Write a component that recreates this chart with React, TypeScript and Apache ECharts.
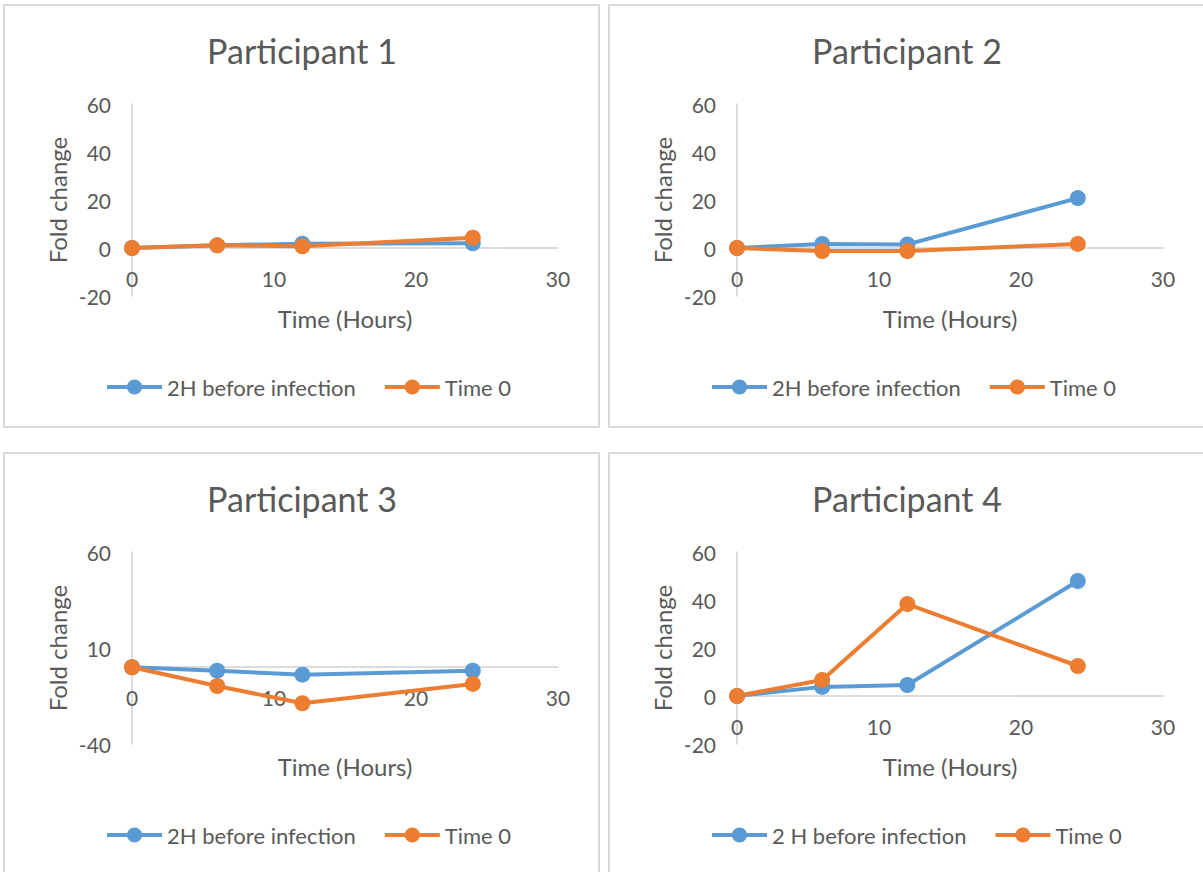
import React, { useEffect, useRef } from "react";
import * as echarts from "echarts";

// Sampling times (hours) and fold-change readings per participant
const hours = [0, 6, 12, 24];

const p1Before = [0, 1.1, 1.8, 2.0];
const p1Time0 = [0, 1.1, 0.7, 4.3];
const p2Before = [0, 1.7, 1.5, 20.8];
const p2Time0 = [0, -1.3, -1.3, 1.7];
const p3Before = [0, -1.8, -3.9, -1.8];
const p3Time0 = [0, -9.8, -18.8, -8.7];
const p4Before = [0, 3.8, 4.6, 47.9];
const p4Time0 = [0, 6.7, 38.3, 12.5];

const titles = ["Participant 1", "Participant 2", "Participant 3", "Participant 4"];
const beforeNames = [
  "2H before infection",
  "2H before infection",
  "2H before infection",
  "2 H before infection",
];
const time0Name = "Time 0";

const xTicks = [0, 10, 20, 30];
const yTicksStandard = [-20, 0, 20, 40, 60];
const yTicksP3 = [-40, 10, 60];

const beforeSeries = [p1Before, p2Before, p3Before, p4Before];
const time0Series = [p1Time0, p2Time0, p3Time0, p4Time0];
const yTickSets = [yTicksStandard, yTicksStandard, yTicksP3, yTicksStandard];

const BLUE = "#5B9BD5";
const ORANGE = "#ED7D31";
const TEXT = "#595959";
const AXIS = "#d0d0d0";
const BORDER = "#d9d9d9";
const FONT = "Lato";

// Panel layout: origin offsets of each of the four chart boxes
const panelOrigins = [
  { dx: 0, dy: 0 },
  { dx: 605, dy: 0 },
  { dx: 0, dy: 448 },
  { dx: 605, dy: 448 },
];
const PLOT_W = 426;
const PLOT_H = 192;

const pairs = (vals: number[]) => vals.map((v, i) => [hours[i], v]);

function buildOption() {
  const grid: any[] = [];
  const xAxis: any[] = [];
  const yAxis: any[] = [];
  const series: any[] = [];
  const legend: any[] = [];
  const graphic: any[] = [];

  panelOrigins.forEach((o, i) => {
    const ticks = yTickSets[i];
    const yMin = ticks[0];
    const yMax = ticks[ticks.length - 1];
    // horizontal axis sits where the value scale crosses zero
    const zeroLift = ((0 - yMin) / (yMax - yMin)) * PLOT_H;

    grid.push({
      left: 132 + o.dx,
      top: 104 + o.dy,
      width: PLOT_W,
      height: PLOT_H,
      containLabel: false,
    });
    xAxis.push({
      type: "value",
      gridIndex: i,
      position: "bottom",
      offset: -zeroLift,
      min: xTicks[0],
      max: xTicks[xTicks.length - 1],
      interval: 10,
      axisLine: { show: true, onZero: false, lineStyle: { color: AXIS, width: 1.5 } },
      axisTick: { show: false },
      splitLine: { show: false },
      axisLabel: {
        color: TEXT,
        fontSize: 21,
        fontFamily: FONT,
        margin: 20,
        customValues: xTicks,
      },
    });
    yAxis.push({
      type: "value",
      gridIndex: i,
      min: yMin,
      max: yMax,
      name: "Fold change",
      nameLocation: "middle",
      nameGap: 63,
      nameTextStyle: { color: TEXT, fontSize: 24, fontFamily: FONT },
      axisLine: { show: true, onZero: false, lineStyle: { color: AXIS, width: 1.5 } },
      axisTick: { show: false, customValues: ticks },
      splitLine: { show: false },
      axisLabel: {
        color: TEXT,
        fontSize: 21,
        fontFamily: FONT,
        margin: 21,
        customValues: ticks,
      },
    });
    series.push({
      type: "line",
      name: beforeNames[i],
      xAxisIndex: i,
      yAxisIndex: i,
      data: pairs(beforeSeries[i]),
      symbol: "circle",
      symbolSize: 16,
      lineStyle: { color: BLUE, width: 4 },
      itemStyle: { color: BLUE },
    });
    series.push({
      type: "line",
      name: time0Name,
      xAxisIndex: i,
      yAxisIndex: i,
      data: pairs(time0Series[i]),
      symbol: "circle",
      symbolSize: 16,
      lineStyle: { color: ORANGE, width: 4 },
      itemStyle: { color: ORANGE },
    });
    legend.push({
      data: [beforeNames[i], time0Name],
      left: 100 + o.dx,
      top: 371 + o.dy,
      itemWidth: 55,
      itemHeight: 19,
      itemGap: 27,
      selectedMode: false,
      lineStyle: { width: 4 },
      textStyle: { color: TEXT, fontSize: 22, fontFamily: FONT },
    });
    // Chart-area frame
    graphic.push({
      type: "rect",
      shape: { x: 4 + o.dx, y: 5 + o.dy, width: 595, height: 422 + (o.dy > 0 ? 10 : 0) },
      style: { fill: "none", stroke: BORDER, lineWidth: 2 },
      z: -10,
    });
    // Panel title
    graphic.push({
      type: "text",
      x: 302 + o.dx,
      y: 50 + o.dy,
      style: {
        text: titles[i],
        fill: TEXT,
        fontSize: 34,
        fontFamily: FONT,
        textAlign: "center",
        textVerticalAlign: "middle",
      },
    });
    // Horizontal axis title
    graphic.push({
      type: "text",
      x: 345 + o.dx,
      y: 318 + o.dy,
      style: {
        text: "Time (Hours)",
        fill: TEXT,
        fontSize: 24,
        fontFamily: FONT,
        textAlign: "center",
        textVerticalAlign: "middle",
      },
    });
  });

  return {
    animation: false,
    backgroundColor: "#ffffff",
    textStyle: { fontFamily: FONT },
    grid,
    xAxis,
    yAxis,
    series,
    legend,
    graphic,
  };
}

export default function App() {
  const ref = useRef<HTMLDivElement>(null);
  useEffect(() => {
    if (!ref.current) return;
    const chart = echarts.init(ref.current, undefined, { renderer: "svg" });
    chart.setOption(buildOption());
    return () => chart.dispose();
  }, []);
  return (
    <div
      ref={ref}
      style={{ position: "absolute", left: 0, top: 0, width: 1203, height: 872 }}
    />
  );
}
